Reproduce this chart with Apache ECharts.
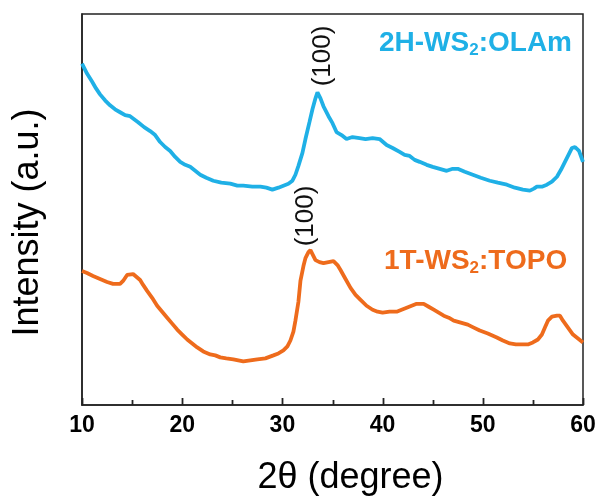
<!DOCTYPE html>
<html>
<head>
<meta charset="utf-8">
<script src="https://cdn.jsdelivr.net/npm/echarts@6/dist/echarts.min.js"></script>
<style>html,body{margin:0;padding:0;background:#fff;}#c{width:600px;height:501px;}</style>
</head>
<body>
<div id="c"></div>
<script>
// 2θ (degree) values and intensities (a.u.)
const blueX = [10,10.5,11,11.4,11.8,12.3,12.8,13.3,13.8,14.3,14.8,15.2,15.6,16.2,16.8,17.3,17.8,18.3,18.8,19.3,19.8,20.3,20.8,21.3,21.8,22.4,23.1,23.9,24.8,25.5,26.1,27,27.8,28.4,29,29.6,30.1,30.6,31,31.3,31.6,32,32.3,32.7,33,33.3,33.5,33.8,34.1,34.6,35,35.4,35.9,36.4,37,37.7,38.3,39,39.7,40.4,41,41.7,42.2,42.7,43.2,43.7,44.4,45,45.7,46.4,47,47.5,48.2,49,49.8,50.7,51.5,52.4,53.2,54,54.7,55.1,55.4,55.9,56.4,56.9,57.4,57.8,58.2,58.6,58.9,59.2,59.6,60];
const blueY = [344,334,326,319,313,307,302,298,295,292,291,288,285,280,276,272,265,260,256,250,245,242,240,236,232,229,226,224,223,221,221,220,220,219,217,219,221,223,226,232,241,254,268,285,298,309,315,309,301,291,284,275,272,268,270,269,268,269,268,262,259,255,252,251,247,245,242,240,238,236,238,238,235,232,229,226,224,222,219,217,216,218,220,220,222,225,230,237,245,253,259,260,256,245];
const orangeX = [10,10.5,11.1,11.8,12.5,13.1,13.8,14.1,14.5,15.1,15.8,16.1,16.5,17,17.5,18,18.5,19,19.5,20,20.5,21,21.5,22.1,22.8,23.3,23.8,24.4,25.1,25.6,26.1,26.8,27.5,28.3,29.1,29.6,30.1,30.5,30.8,31.1,31.3,31.6,31.8,32.1,32.3,32.6,32.8,33.1,33.3,33.7,34.1,34.6,35.1,35.5,35.8,36.3,36.8,37.3,37.8,38.4,39,39.5,40,40.7,41.4,41.9,42.4,42.9,43.4,43.8,44.1,44.6,45.1,45.6,46.1,46.6,47.1,47.8,48.5,49.1,49.7,50.5,51.4,52,52.7,53.3,54,54.5,55,55.5,55.9,56.2,56.5,56.9,57.4,57.7,58,58.5,59,59.5,60];
const orangeY = [135,133,130,127,124,122,122,125,131,132,126,121,115,108,100,94,88,82,76,71,66,62,58,54,51,50,48,47,46,45,44,45,46,47,50,52,55,59,65,74,85,104,125,140,148,154,156,150,146,144,143,144,145,141,136,127,118,111,106,100,96,94,93,94,94,96,98,100,102,102,102,99,96,93,90,88,85,83,81,78,75,72,68,65,62,61,61,61,63,66,71,78,85,89,90,90,85,78,71,67,63];
const xTicks = [10,20,30,40,50,60];
const xMinorTicks = [15,25,35,45,55];

const toPairs = (xs, ys) => xs.map((x, i) => [x, ys[i]]);
const chart = echarts.init(document.getElementById('c'), null, {renderer: 'canvas'});
const fontBase = 'Liberation Sans, Arial, Helvetica, sans-serif';
const blue = '#1FB0E6', orange = '#EE6B1C';
const tickData = xTicks.map(v => [v, 7]).concat(xMinorTicks.map(v => [v, 5]));
chart.setOption({
  backgroundColor: '#fff',
  animation: false,
  grid: {left: 82, right: 17, top: 14, bottom: 93, show: true, borderColor: '#222', borderWidth: 1.5, backgroundColor: 'transparent'},
  xAxis: {
    type: 'value', min: 10, max: 60, interval: 10,
    axisLine: {show: true, lineStyle: {color: '#222', width: 1.5}},
    axisTick: {show: false},
    splitLine: {show: false},
    axisLabel: {color: '#000', fontSize: 23, fontWeight: 'bold', fontFamily: fontBase, margin: 9,
      formatter: v => xTicks.includes(v) ? String(v) : ''},
    name: '2θ (degree)', nameLocation: 'middle', nameGap: 55,
    nameTextStyle: {color: '#000', fontSize: 36, fontFamily: fontBase, padding: [0, 0, 0, 36]}
  },
  yAxis: {
    type: 'value', min: 0, max: 394,
    axisLine: {show: true, lineStyle: {color: '#222', width: 1.5}},
    axisTick: {show: false}, axisLabel: {show: false}, splitLine: {show: false},
    name: 'Intensity (a.u.)', nameLocation: 'middle', nameGap: 36, nameRotate: 90,
    nameTextStyle: {color: '#000', fontSize: 36, fontFamily: fontBase, padding: [0, 26, 0, 0]}
  },
  series: [
    {type: 'line', data: toPairs(blueX, blueY), showSymbol: false, smooth: false,
      lineStyle: {color: blue, width: 3.8}, z: 3},
    {type: 'line', data: toPairs(orangeX, orangeY), showSymbol: false, smooth: false,
      lineStyle: {color: orange, width: 3.8}, z: 3},
    {type: 'custom', data: tickData, z: 5, silent: true,
      renderItem: (params, api) => {
        const p = api.coord([api.value(0), 0]);
        const len = api.value(1);
        const x = Math.round(p[0]) + 0.5;
        return {type: 'line', shape: {x1: x, y1: p[1], x2: x, y2: p[1] - len},
          style: {stroke: '#222', lineWidth: 1.8}};
      }}
  ],
  graphic: [
    {type: 'text', left: 379, top: 29, style: {
      rich: {a: {fontSize: 28, fontWeight: 'bold', fill: blue, fontFamily: fontBase},
             s: {fontSize: 17, fontWeight: 'bold', fill: blue, fontFamily: fontBase, verticalAlign: 'bottom', padding: [15,0,0,0]}},
      text: '{a|2H-WS}{s|2}{a|:OLAm}'}},
    {type: 'text', left: 384, top: 247, style: {
      rich: {a: {fontSize: 28, fontWeight: 'bold', fill: orange, fontFamily: fontBase},
             s: {fontSize: 17, fontWeight: 'bold', fill: orange, fontFamily: fontBase, verticalAlign: 'bottom', padding: [15,0,0,0]}},
      text: '{a|1T-WS}{s|2}{a|:TOPO}'}},
    {type: 'text', x: 323, y: 56, rotation: Math.PI / 2, style: {
      text: '(100)', fontSize: 26, fill: '#111', fontFamily: fontBase, align: 'center', verticalAlign: 'middle'}},
    {type: 'text', x: 306, y: 216, rotation: Math.PI / 2, style: {
      text: '(100)', fontSize: 26, fill: '#111', fontFamily: fontBase, align: 'center', verticalAlign: 'middle'}}
  ]
});
</script>
</body>
</html>
